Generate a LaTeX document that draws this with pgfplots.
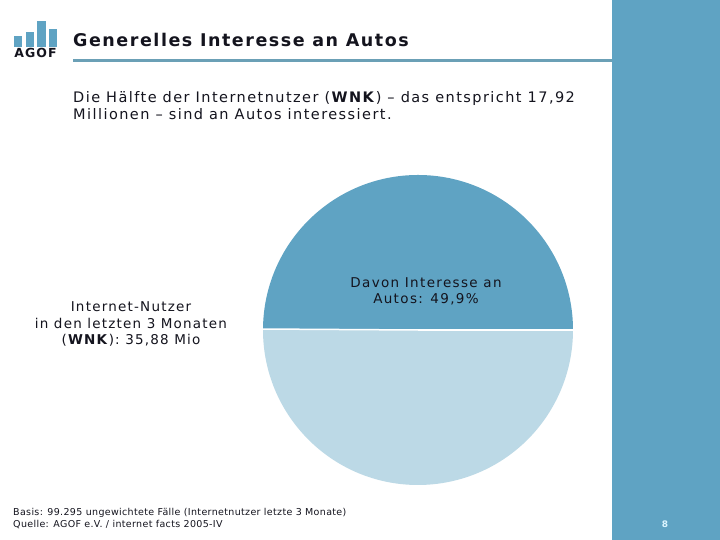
\documentclass[border=0pt]{standalone}
\usepackage{pgfplots}
\pgfplotsset{compat=1.18}
\usepackage{pgfplotstable}
\usepackage{fontspec}
\setmainfont{DejaVu Sans}
\definecolor{agofblue}{RGB}{95,163,195}
\definecolor{lightblue}{RGB}{188,217,230}
\definecolor{linecol}{RGB}{107,160,182}
\definecolor{txt}{RGB}{20,20,30}
\newcommand{\ls}[1]{\addfontfeature{LetterSpace=#1}}
\pgfplotstableread{
part value
Interesse 49.9
Rest 50.1
}\piedata
\begin{document}
\begin{tikzpicture}
\pgfplotstablegetelem{0}{value}\of\piedata
\pgfmathsetmacro{\angA}{3.6*\pgfplotsretval}
\begin{axis}[x=1bp,y=1bp,xmin=0,xmax=720,ymin=0,ymax=540,
  scale only axis,hide axis,clip=false]
% background
\fill[white] (axis cs:0,0) rectangle (axis cs:720,540);
% right bar
\fill[agofblue] (axis cs:612,0) rectangle (axis cs:720,540);
% title rule
\fill[linecol] (axis cs:73,478) rectangle (axis cs:612,481);
% logo
\fill[agofblue] (axis cs:14,493.3) rectangle (axis cs:22,504.3);
\fill[agofblue] (axis cs:26,493.3) rectangle (axis cs:34,508.3);
\fill[agofblue] (axis cs:37,493.3) rectangle (axis cs:46,519);
\fill[agofblue] (axis cs:49,493.3) rectangle (axis cs:57,511);
\node[anchor=base,inner sep=0pt,text=txt] at (axis cs:35.5,482)
  {\fontsize{12.5bp}{14bp}\selectfont\bfseries\ls{8} AGOF};
% title
\node[anchor=base west,inner sep=0pt,text=txt] at (axis cs:73,493)
  {\fontsize{17.5bp}{21bp}\selectfont\bfseries\ls{8.8} Generelles Interesse an Autos};
% subtitle
\node[anchor=base west,inner sep=0pt,text=txt] at (axis cs:73,437)
  {\fontsize{14.5bp}{17bp}\selectfont\ls{9.9} Die Hälfte der Internetnutzer (\textbf{WNK}) – das entspricht 17,92};
\node[anchor=base west,inner sep=0pt,text=txt] at (axis cs:73,420)
  {\fontsize{14.5bp}{17bp}\selectfont\ls{9.9} Millionen – sind an Autos interessiert.};
% pie
\fill[agofblue] (axis cs:418,210) -- ++(0:155bp) arc[start angle=0,end angle=\angA,radius=155bp] -- cycle;
\fill[lightblue] (axis cs:418,210) -- ++(\angA:155bp) arc[start angle=\angA,end angle=360,radius=155bp] -- cycle;
\draw[white,line width=1.5bp] (axis cs:418,210) -- ++(0:156bp);
\draw[white,line width=1.5bp] (axis cs:418,210) -- ++(\angA:156bp);
% labels
\node[anchor=base,inner sep=0pt,text=txt] at (axis cs:426,252)
  {\fontsize{13.5bp}{16bp}\selectfont\ls{10} Davon Interesse an};
\node[anchor=base,inner sep=0pt,text=txt] at (axis cs:426,236)
  {\fontsize{13.5bp}{16bp}\selectfont\ls{10} Autos: 49,9\%};
\node[anchor=base,inner sep=0pt,text=txt] at (axis cs:131,228)
  {\fontsize{13.5bp}{16bp}\selectfont\ls{9} Internet-Nutzer};
\node[anchor=base,inner sep=0pt,text=txt] at (axis cs:131,211)
  {\fontsize{13.5bp}{16bp}\selectfont\ls{9} in den letzten 3 Monaten};
\node[anchor=base,inner sep=0pt,text=txt] at (axis cs:131,195)
  {\fontsize{13.5bp}{16bp}\selectfont\ls{9} (\textbf{WNK}): 35,88 Mio};
% footer
\node[anchor=base west,inner sep=0pt,text=txt] at (axis cs:13,24)
  {\fontsize{9.5bp}{11bp}\selectfont\ls{3.6} Basis: 99.295 ungewichtete Fälle (Internetnutzer letzte 3 Monate)};
\node[anchor=base west,inner sep=0pt,text=txt] at (axis cs:13,12)
  {\fontsize{9.5bp}{11bp}\selectfont\ls{3.6} Quelle: AGOF e.V. / internet facts 2005-IV};
\node[anchor=base,inner sep=0pt,text={rgb,255:red,220;green,245;blue,255}] at (axis cs:665,12)
  {\fontsize{9bp}{11bp}\selectfont\bfseries 8};
\end{axis}
\end{tikzpicture}
\end{document}
